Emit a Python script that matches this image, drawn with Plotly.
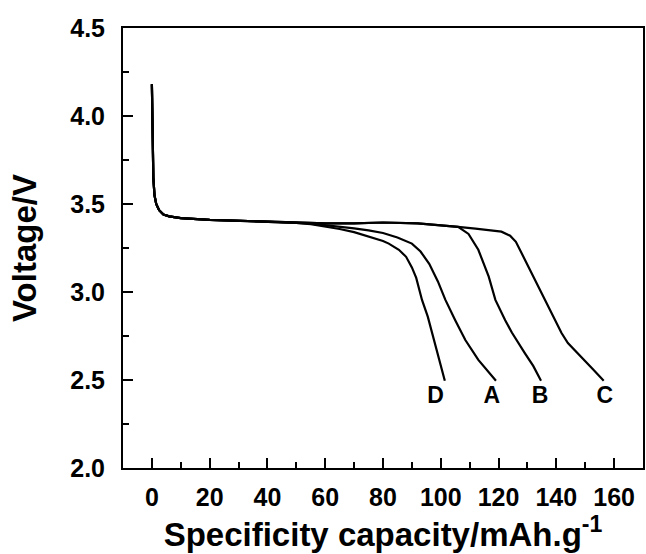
import plotly.graph_objects as go

# shared initial drop + plateau (all four curves)
head_x = [0, 0.2, 0.5, 0.9, 1.5, 2.5, 4, 6, 10, 20, 30, 40, 50]
head_y = [4.18, 3.95, 3.65, 3.55, 3.5, 3.465, 3.44, 3.43, 3.42, 3.41, 3.405, 3.40, 3.393]

a_x = [55, 60, 65, 70, 75, 80, 85, 90, 93, 96, 99, 101.6, 105, 108.5, 113, 116, 119.1]
a_y = [3.388, 3.38, 3.372, 3.362, 3.35, 3.335, 3.31, 3.275, 3.23, 3.16, 3.06, 2.955, 2.84, 2.727, 2.614, 2.555, 2.496]

b_x = [60, 70, 80, 92, 100, 106, 109.6, 113, 116.6, 118.9, 122.3, 124.6, 129.2, 132, 134.7]
b_y = [3.39, 3.39, 3.395, 3.39, 3.38, 3.37, 3.33, 3.24, 3.087, 2.955, 2.84, 2.77, 2.65, 2.58, 2.496]

c_x = [60, 70, 80, 92, 100, 106, 112, 118, 121, 124, 126, 128, 130.3, 133, 136.1, 139, 141.8, 144, 147, 150, 153, 156.4]
c_y = [3.39, 3.39, 3.395, 3.39, 3.38, 3.37, 3.36, 3.35, 3.343, 3.32, 3.285, 3.22, 3.144, 3.05, 2.955, 2.86, 2.767, 2.71, 2.66, 2.61, 2.555, 2.496]

d_x = [55, 60, 65, 70, 75, 80, 82, 85.5, 88, 90, 91.5, 93.5, 95.5, 97, 99, 101.4]
d_y = [3.385, 3.372, 3.358, 3.34, 3.315, 3.29, 3.275, 3.24, 3.2, 3.14, 3.08, 2.955, 2.86, 2.767, 2.63, 2.496]

label_text = ["D", "A", "B", "C"]
label_x = [98.2, 117.7, 134.4, 156.8]
label_y = [2.4, 2.4, 2.4, 2.4]

fig = go.Figure()
for cx, cy in [(a_x, a_y), (b_x, b_y), (c_x, c_y), (d_x, d_y)]:
    fig.add_trace(go.Scatter(x=head_x + cx, y=head_y + cy, mode="lines",
                             line=dict(color="black", width=2.2), showlegend=False))

fig.add_trace(go.Scatter(x=label_x, y=label_y, mode="text", text=label_text,
                         textfont=dict(family="Liberation Sans", size=23, color="black", weight="bold"),
                         showlegend=False))

axis_font = dict(family="Liberation Sans", size=25, color="black", weight="bold")
title_font = dict(family="Liberation Sans", size=33, color="black", weight="bold")

fig.update_xaxes(range=[-10, 170], tickvals=[0, 20, 40, 60, 80, 100, 120, 140, 160],
                 ticks="inside", ticklen=10, tickwidth=2, tickcolor="black", ticklabelstandoff=6,
                 minor=dict(dtick=10, tick0=0, ticks="inside", ticklen=6, tickwidth=2, tickcolor="black"),
                 showline=True, linewidth=2, linecolor="black", mirror=True,
                 showgrid=False, zeroline=False, tickfont=axis_font,
                 title=dict(text="Specificity capacity/mAh.g<sup>-1</sup>", font=title_font, standoff=6))
fig.update_yaxes(range=[2.0, 4.5], tickvals=[2.0, 2.5, 3.0, 3.5, 4.0, 4.5], tickformat=".1f",
                 ticks="inside", ticklen=10, tickwidth=2, tickcolor="black", ticklabelstandoff=11,
                 minor=dict(dtick=0.25, tick0=2.0, ticks="inside", ticklen=6, tickwidth=2, tickcolor="black"),
                 showline=True, linewidth=2, linecolor="black", mirror=True,
                 showgrid=False, zeroline=False, tickfont=axis_font,
                 title=dict(text="Voltage/V", font=title_font, standoff=24))

fig.update_layout(width=646, height=554, margin=dict(l=123, r=1, t=28, b=86),
                  plot_bgcolor="white", paper_bgcolor="white")
# drop the default 8px page margin so the figure fills the window
fig.write_html("out.html", config={"displayModeBar": False},
               post_script="document.body.style.margin='0';")
